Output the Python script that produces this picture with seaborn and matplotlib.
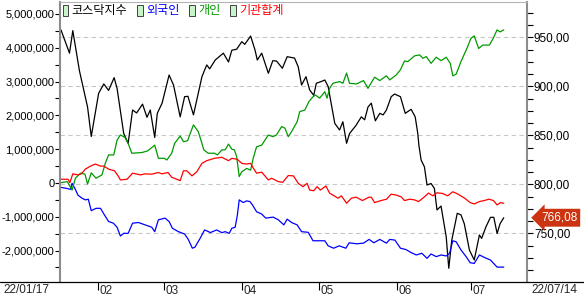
import numpy as np
import pandas as pd
import matplotlib
matplotlib.use("Agg")
import matplotlib.pyplot as plt
import matplotlib.transforms as mtransforms
from matplotlib.ticker import MultipleLocator, FuncFormatter
from matplotlib.patches import Patch
from matplotlib.lines import Line2D
from matplotlib.font_manager import FontProperties
import seaborn as sns

# ---------------- data (x = trading-day index from 2022-01-17) ----------------
month_idx = [10, 28, 49, 70, 91, 111]
month_labels = ["02", "03", "04", "05", "06", "07"]
start_label = "22/01/17"
end_label = "22/07/14"
last_value = 766.08

kosdaq_day = [0, 2.3, 3.2, 5.0, 7.2, 8.2, 10.2, 11.6, 12.9, 14.4, 15.2, 17.0, 18.2, 19.4, 20.5,
              22.1, 23.3, 24.2, 25.4, 26.1, 27.4, 29.3, 30.5, 32.3, 33.5, 34.4, 35.9, 38.2, 39.5,
              40.3, 41.8, 44.0, 45.4, 46.3, 47.6, 49.0, 49.8, 51.4, 52.6, 53.2, 54.4, 56.2, 57.4,
              58.4, 60.0, 61.3, 63.3, 64.3, 65.2, 66.4, 67.4, 68.5, 69.2, 70.5, 71.5, 72.4, 74.2,
              75.5, 76.4, 77.4, 78.2, 79.9, 81.4, 82.3, 83.2, 84.1, 85.2, 86.4, 87.3, 88.2, 89.5,
              90.4, 92.0, 93.3, 94.9, 96.0, 96.7, 97.0, 97.6, 98.5, 99.2, 100.3, 101.2, 101.9,
              103.0, 104.4, 105.1, 105.9, 107.4, 108.4, 109.3, 110.7, 112.0, 113.4, 114.0, 115.2,
              116.4, 117.3, 118.2, 119.0, 120.0]
kosdaq_val = [957.7, 934, 957, 916, 879, 849, 893, 902.6, 896, 909, 898, 852, 842, 876, 873,
              882, 868.6, 876, 848, 872.6, 883, 911.7, 901.5, 869, 889.6, 890, 871, 910, 922,
              918, 927, 934, 925, 937, 938, 945.7, 943, 951.5, 937, 927, 934, 913.5, 926.3,
              926, 918.6, 930.4, 929, 920, 901.5, 910, 896.4, 891, 903.3, 905, 906.6, 900, 862.4,
              855.6, 864, 842, 852, 860, 869, 866, 879, 883, 865, 872.6, 871, 876, 889.6,
              892.3, 889.6, 872.6, 876.7, 869, 852, 840, 825, 818, 799.5, 801, 796, 774,
              778, 746.7, 714.5, 743, 770.6, 769, 760, 733, 723, 748.5, 745, 757,
              766.5, 766.5, 750, 760, 766.08]

indiv_day = [0, 1.7, 3.0, 3.9, 5.3, 6.5, 7.2, 8.2, 9.5, 11.1, 12.0, 12.9, 14.3, 15.2, 16.1, 17.3,
             18.2, 19.2, 21.9, 23.5, 25.4, 26.4, 28.0, 28.7, 30.0, 30.8, 32.3, 33.2, 34.3, 35.9,
             37.2, 38.2, 38.7, 39.9, 41.6, 42.4, 43.6, 44.5, 45.4, 46.3, 47.0, 47.6, 48.3, 49.0,
             50.3, 51.4, 52.1, 53.0, 54.4, 55.3, 56.2, 57.4, 58.4, 59.8, 60.7, 61.6, 62.5, 64.0,
             64.7, 66.1, 67.2, 68.3, 69.0, 70.1, 71.5, 72.1, 72.8, 73.7, 75.5, 76.4, 77.4, 78.2,
             80.1, 82.0, 83.2, 85.0, 86.4, 88.2, 89.1, 90.9, 92.0, 93.1, 94.0, 95.8, 97.2, 98.1,
             99.0, 100.3, 101.7, 103.0, 104.4, 105.5, 106.2, 107.1, 108.4, 110.2, 111.1, 112.0,
             113.2, 114.3, 116.1, 117.0, 118.2, 119.0, 120.0]
indiv_val = [0.01, 0.04, -0.21, 0.14, 0.29, 0.26, -0.03, 0.30, 0.14, 0.24, 0.58, 0.83, 0.83, 1.27,
             1.42, 1.35, 1.17, 0.88, 0.90, 0.95, 1.12, 0.73, 0.73, 0.68, 0.88, 1.17, 1.39, 1.22,
             1.25, 1.72, 1.52, 1.17, 0.98, 0.88, 0.88, 0.83, 0.98, 0.98, 1.15, 1.00, 0.98, 0.78,
             0.19, 0.33, 0.43, 0.38, 0.73, 1.07, 1.12, 1.27, 1.42, 1.37, 1.42, 1.67, 1.62, 1.37,
             1.52, 1.81, 2.11, 2.16, 2.41, 2.55, 2.60, 2.51, 2.70, 2.51, 2.80, 2.95, 3.00, 2.95,
             3.25, 2.95, 2.93, 3.03, 2.80, 3.13, 3.03, 3.17, 3.05, 3.20, 3.35, 3.61, 3.59, 3.76,
             3.79, 3.69, 3.74, 3.54, 3.72, 3.62, 3.72, 3.54, 3.17, 3.22, 3.59, 4.03, 4.28, 4.35,
             3.98, 4.08, 4.08, 4.25, 4.53, 4.47, 4.53]

inst_day = [0, 1.9, 2.4, 3.2, 4.6, 5.5, 6.6, 8.0, 9.3, 10.7, 11.6, 12.9, 14.5, 15.6, 16.1, 17.9,
            19.4, 21.5, 22.9, 24.6, 26.4, 27.3, 29.0, 30.0, 32.3, 33.2, 34.1, 35.5, 36.8, 38.2,
            39.5, 41.6, 43.6, 45.4, 46.3, 47.8, 49.0, 50.2, 51.4, 51.9, 53.0, 54.4, 56.2, 57.1,
            58.9, 60.1, 61.6, 63.0, 64.3, 65.6, 66.7, 67.4, 68.5, 69.4, 70.3, 71.8, 72.8, 75.1,
            76.0, 77.4, 78.7, 80.0, 81.7, 83.5, 84.1, 85.0, 86.4, 88.2, 89.5, 90.9, 92.2, 93.1,
            94.5, 95.8, 96.9, 98.5, 99.6, 100.8, 101.9, 103.4, 104.8, 106.2, 107.6, 109.4, 110.9,
            112.0, 113.4, 114.7, 116.0, 117.2, 118.2, 119.1, 120.0]
inst_val = [0.11, 0.11, 0.01, 0.27, 0.24, 0.27, 0.41, 0.50, 0.56, 0.50, 0.50, 0.41, 0.36, 0.19,
            0.09, 0.11, 0.29, 0.24, 0.27, 0.26, 0.31, 0.27, 0.31, 0.17, 0.07, 0.36, 0.36, 0.21,
            0.33, 0.58, 0.66, 0.73, 0.76, 0.66, 0.73, 0.70, 0.58, 0.56, 0.58, 0.48, 0.29, 0.32,
            0.09, 0.14, 0.04, 0.02, 0.22, 0.21, -0.01, -0.11, -0.01, -0.21, -0.23, -0.11, -0.21,
            -0.09, -0.30, -0.45, -0.38, -0.60, -0.45, -0.42, -0.52, -0.42, -0.42, -0.58, -0.53,
            -0.48, -0.33, -0.36, -0.41, -0.52, -0.48, -0.50, -0.55, -0.41, -0.30, -0.38, -0.29,
            -0.31, -0.38, -0.26, -0.33, -0.45, -0.58, -0.62, -0.55, -0.52, -0.48, -0.52, -0.65,
            -0.58, -0.60]

frgn_day = [0, 1.5, 2.6, 3.0, 3.9, 4.6, 5.7, 6.6, 7.4, 8.2, 9.5, 10.7, 11.8, 12.9, 14.2, 15.2,
            16.1, 17.0, 18.2, 19.4, 21.0, 22.8, 24.6, 25.4, 26.4, 28.2, 29.3, 30.2, 31.8, 33.5,
            34.5, 35.6, 36.3, 37.7, 38.9, 40.0, 40.4, 42.2, 43.6, 44.5, 45.6, 46.3, 47.2, 47.8,
            48.3, 49.4, 50.3, 51.2, 51.9, 53.0, 54.4, 55.5, 57.5, 58.9, 60.4, 61.3, 62.5, 64.0,
            65.2, 67.0, 68.3, 71.5, 72.4, 73.9, 75.4, 77.2, 78.1, 80.1, 82.0, 83.5, 84.8, 86.4,
            88.2, 89.1, 90.5, 92.0, 93.5, 94.9, 96.3, 97.8, 99.2, 100.3, 101.7, 103.0, 104.4,
            105.3, 106.2, 107.1, 108.4, 109.8, 110.9, 112.0, 113.4, 114.7, 116.4, 118.2, 120.0]
frgn_val = [-0.13, -0.16, -0.19, -0.01, -0.19, -0.36, -0.45, -0.50, -0.48, -0.82, -0.75, -0.75,
            -0.95, -1.14, -1.19, -1.31, -1.57, -1.49, -1.49, -1.19, -1.17, -1.24, -1.31, -1.44,
            -1.09, -1.04, -1.14, -1.34, -1.44, -1.51, -1.67, -1.93, -1.90, -1.64, -1.39, -1.44,
            -1.47, -1.39, -1.47, -1.44, -1.49, -1.34, -1.31, -0.95, -0.50, -0.58, -0.53, -0.55,
            -0.65, -0.85, -0.92, -1.04, -1.01, -1.09, -1.24, -1.07, -1.17, -1.24, -1.44, -1.46,
            -1.71, -1.71, -1.86, -1.93, -1.86, -1.93, -1.77, -1.80, -1.78, -1.67, -1.77, -1.67,
            -1.78, -1.67, -1.69, -1.93, -1.97, -2.06, -2.13, -2.08, -2.23, -2.10, -2.18, -2.13,
            -2.16, -2.08, -1.71, -1.74, -1.98, -2.18, -2.36, -2.38, -2.13, -2.20, -2.28, -2.49,
            -2.49]

series_names = ["코스닥지수", "외국인", "개인", "기관합계"]
series_colors = ["#000000", "#0000ff", "#009a00", "#ff0000"]

# ---------------- figure ----------------
sns.set_style("white")
plt.rcParams['font.family'] = ['Liberation Sans', 'DejaVu Sans', 'Noto Sans CJK KR']

W, H = 584, 300
fig = plt.figure(figsize=(W / 100, H / 100), dpi=100)
L, R, T, B = 60, 527, 2.5, 282
ax = fig.add_axes([L / W, 1 - B / H, (R - L) / W, (B - T) / H])
ax2 = ax.twinx()

# KOSDAQ index on the main axes (right scale)
sns.lineplot(x=kosdaq_day, y=kosdaq_val, ax=ax, color=series_colors[0], lw=0.9,
             estimator=None, sort=False)
ax.set_ylim(700.5, 985.7)
ax.set_xlim(-0.27, 126.3)
ax.set_ylabel("")
ax.yaxis.tick_right()
ax.yaxis.set_major_locator(MultipleLocator(50))
ax.yaxis.set_minor_locator(MultipleLocator(12.5))
ax.yaxis.set_major_formatter(FuncFormatter(lambda v, p: f"{v:.2f}".replace(".", ",")))
ax.tick_params(axis='y', which='both', right=True, left=False, labelright=True,
               labelleft=False, direction='out', length=4, width=0.8, pad=1,
               labelsize=8.5, colors='black')
ax.yaxis.grid(True, which='major', ls=(0, (4, 3)), color='#c8c8c8', lw=0.8)
ax.xaxis.grid(False)
ax.set_xticks(month_idx)
ax.set_xticklabels([])
ax.tick_params(axis='x', which='major', bottom=True, direction='out', length=6,
               width=0.8, colors='black')
for s in ax.spines.values():
    s.set_visible(False)

# investor flows on twin axes (left scale)
sns.lineplot(x=frgn_day, y=[v * 1e6 for v in frgn_val], ax=ax2, color=series_colors[1],
             lw=0.9, estimator=None, sort=False)
sns.lineplot(x=indiv_day, y=[v * 1e6 for v in indiv_val], ax=ax2, color=series_colors[2],
             lw=0.9, estimator=None, sort=False)
sns.lineplot(x=inst_day, y=[v * 1e6 for v in inst_val], ax=ax2, color=series_colors[3],
             lw=0.9, estimator=None, sort=False)
ax2.set_ylim(-2.93e6, 5.34e6)
ax2.set_ylabel("")
ax2.yaxis.tick_left()
ax2.yaxis.set_major_locator(MultipleLocator(1e6))
ax2.yaxis.set_minor_locator(MultipleLocator(5e5))
ax2.yaxis.set_major_formatter(FuncFormatter(lambda v, p: f"{int(round(v)):,}"))
ax2.tick_params(axis='y', which='both', left=True, right=False, labelleft=True,
                labelright=False, direction='out', length=3.5, width=0.8, pad=0.5,
                labelsize=8, colors='black')
for side in ['left', 'right']:
    ax2.spines[side].set_visible(True)
    ax2.spines[side].set_color('#8c8c8c')
    ax2.spines[side].set_linewidth(1.5)
ax2.spines['top'].set_color('#b4b4b4')
ax2.spines['top'].set_linewidth(0.8)
ax2.spines['bottom'].set_visible(False)

# baseline across the whole figure
fig.add_artist(Line2D([0, 1], [1 - B / H, 1 - B / H], transform=fig.transFigure,
                      color='black', lw=0.9))

# month labels
for i, lab in zip(month_idx, month_labels):
    ax.text(i + 0.4, -0.01, lab, transform=ax.get_xaxis_transform(), ha='left',
            va='top', fontsize=8.5)
fig.text(3 / W, 1 - 284 / H, start_label, ha='left', va='top', fontsize=8.5)
fig.text(531 / W, 1 - 284 / H, end_label, ha='left', va='top', fontsize=8.5)

# last value tag
trans = mtransforms.blended_transform_factory(ax.transAxes, ax.transData)
ax2.text(1.0 + 14 / (R - L), last_value, f"{last_value:.2f}".replace(".", ","),
         transform=trans, ha='left', va='center', color='white', fontsize=8.5,
         bbox=dict(boxstyle='larrow,pad=0.25', fc='#cc3310', ec='none'), clip_on=False)

# legend
handles = [Patch(facecolor='#c8f5c8', edgecolor='#404040', lw=0.7) for _ in series_names]
leg = ax2.legend(handles, series_names, loc='upper left', bbox_to_anchor=(0.002, 1.0),
                 ncol=4, frameon=False, handlelength=0.45, handleheight=1.0,
                 handletextpad=0.3, columnspacing=0.8, borderaxespad=0, borderpad=0.15,
                 prop=FontProperties(family=['Noto Sans CJK KR'], size=8.7),
                 labelcolor=series_colors)

fig.savefig("out.png", dpi=100)
